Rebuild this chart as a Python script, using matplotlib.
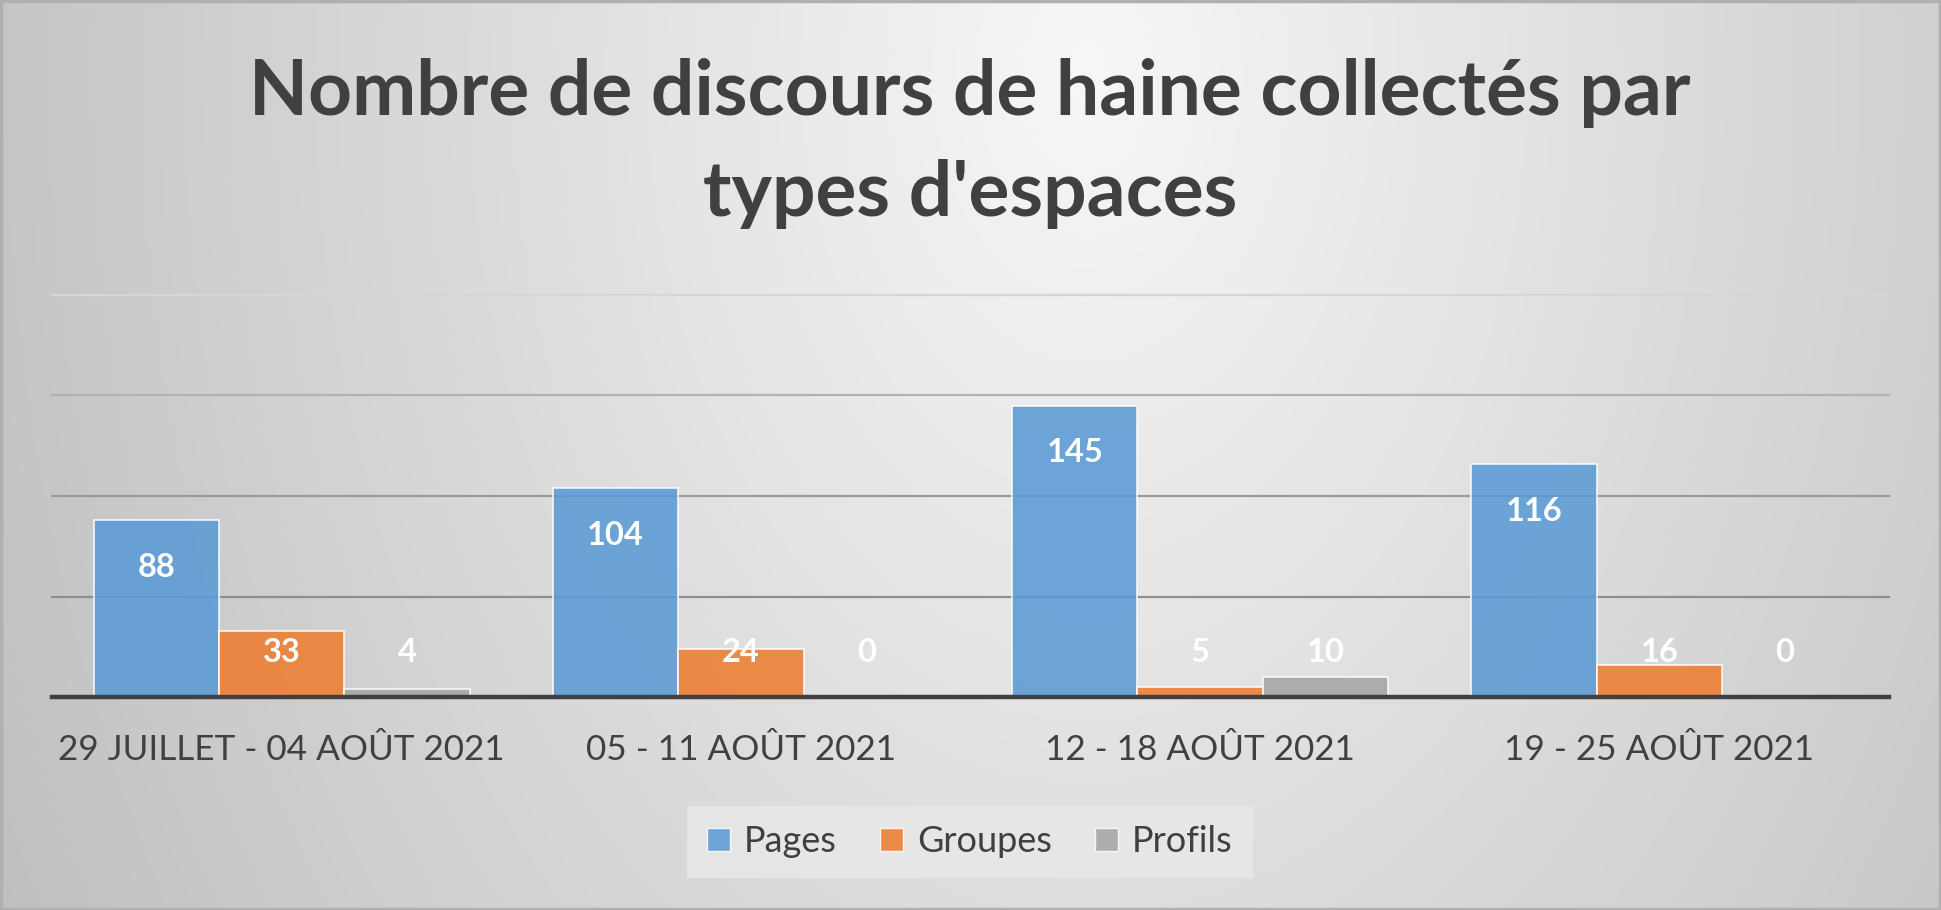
import numpy as np
import matplotlib
matplotlib.use("Agg")
import matplotlib.pyplot as plt
from matplotlib.patches import Patch, Rectangle
import matplotlib.transforms as mtransforms

# ---- data ----
categories = ["29 JUILLET - 04 AOÛT 2021", "05 - 11 AOÛT 2021",
              "12 - 18 AOÛT 2021", "19 - 25 AOÛT 2021"]
series_names = ["Pages", "Groupes", "Profils"]
pages = [88, 104, 145, 116]
groupes = [33, 24, 5, 16]
profils = [4, 0, 10, 0]
title_line1 = "Nombre de discours de haine collectés par"
title_line2 = "types d'espaces"
y_ticks = [0, 50, 100, 150, 200]

W, H = 1941, 910
DPI = 100
FONT = "Lato"
TXT = "#404040"

fig = plt.figure(figsize=(W / DPI, H / DPI), dpi=DPI)

# background gradient
bg = fig.add_axes([0, 0, 1, 1], zorder=-10)
yy, xx = np.mgrid[0:H, 0:W]
cx, cy = 0.56 * W, 0.08 * H
d = np.sqrt(((xx - cx) / W) ** 2 + (((yy - cy) / H) * 0.32) ** 2)
g = np.clip(247 - 88 * d, 190, 250) / 255.0
bg.imshow(np.dstack([g, g, g]), aspect="auto", extent=[0, 1, 0, 1], origin="upper")
bg.set_xlim(0, 1)
bg.set_ylim(0, 1)
bg.axis("off")
bg.add_patch(Rectangle((0.0005, 0.001), 0.999, 0.998, fill=False,
                       edgecolor="#b0b0b0", lw=2.5, transform=bg.transAxes))

# plot area
left, right = 52 / W, 1889 / W
bottom, top = (H - 697) / H, (H - 295) / H
ax = fig.add_axes([left, bottom, right - left, top - bottom])
ax.patch.set_alpha(0)
for s in ax.spines.values():
    s.set_visible(False)

grid_colors = {50: "#8e8e8e", 100: "#9a9a9a", 150: "#b2b2b2", 200: "#d6d6d6"}
for t in y_ticks[1:]:
    ax.axhline(t, color=grid_colors[t], lw=1.6, zorder=0, clip_on=False)

x = np.arange(len(categories))
bw = 0.273
base_colors = ["#5B9BD5", "#ED7D31", "#A5A5A5"]
data = [pages, groupes, profils]
for i, (vals, col, name) in enumerate(zip(data, base_colors, series_names)):
    offs = (i - 1) * bw
    ax.bar(x + offs, vals, width=bw, color=col, alpha=0.88,
           edgecolor=(1, 1, 1, 0.55), linewidth=1.2, zorder=2)
    for xi, v in zip(x + offs, vals):
        ax.text(xi, max(v - 23.5, 22), str(v), ha="center", va="center",
                color="white", fontsize=23.5, fontweight="bold", family=FONT, zorder=4)

ax.axhline(0, color="#404040", lw=3.2, zorder=3, clip_on=False)
ax.set_xlim(-0.5, len(categories) - 0.5)
ax.set_ylim(0, 200)
ax.set_xticks([])
ax.set_yticks([])

# category labels
trans = mtransforms.blended_transform_factory(ax.transData, fig.transFigure)
for xi, c in zip(x, categories):
    ax.text(xi, 1 - 750 / H, c, transform=trans, ha="center", va="center",
            color=TXT, fontsize=25.3, family=FONT)

# title
fig.text(970 / W, 1 - 93 / H, title_line1, ha="center", va="center",
         color=TXT, fontsize=55.3, fontweight="bold", family=FONT)
fig.text(970 / W, 1 - 194 / H, title_line2, ha="center", va="center",
         color=TXT, fontsize=55.3, fontweight="bold", family=FONT)

# legend
handles = [Patch(facecolor=c, edgecolor=(1, 1, 1, 0.6), alpha=0.88) for c in base_colors]
leg = fig.legend(handles, series_names, loc="center", ncol=3,
                 bbox_to_anchor=(970 / W, 1 - 842 / H), frameon=True,
                 prop={"family": FONT, "size": 26}, handlelength=0.62,
                 handleheight=0.62, handletextpad=0.4, columnspacing=1.2,
                 borderpad=0.55, borderaxespad=0, fancybox=False)
leg.get_frame().set_facecolor("#e9e9e9")
leg.get_frame().set_edgecolor("none")
leg.get_frame().set_alpha(0.8)
for t in leg.get_texts():
    t.set_color(TXT)

fig.savefig("out.png", dpi=DPI)
